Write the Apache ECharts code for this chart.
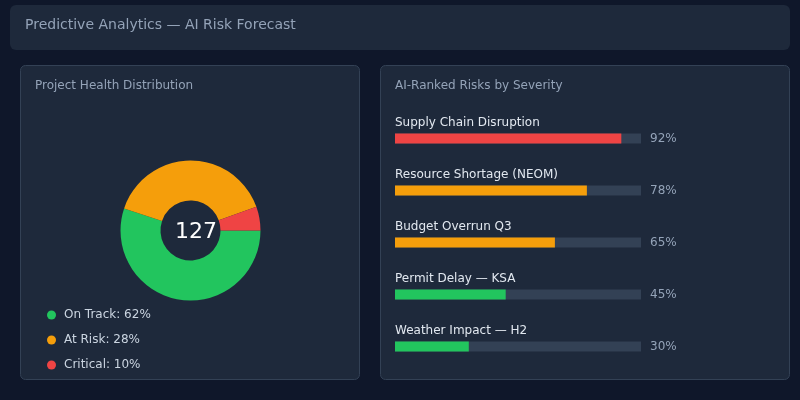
<!DOCTYPE html>
<html>
<head>
<meta charset="utf-8">
<script src="https://cdn.jsdelivr.net/npm/echarts@6/dist/echarts.min.js"></script>
<style>
  html, body { margin: 0; padding: 0; background: #0f172a; }
  #chart { width: 800px; height: 400px; }
</style>
</head>
<body>
<div id="chart"></div>
<script>
// project health
var healthNames = ['On Track', 'At Risk', 'Critical'];
var healthCounts = [70, 50, 7];
var healthPct = [62, 28, 10];
var healthColors = ['#22c55e', '#f59e0b', '#ef4444'];

// risks
var riskNames = ['Supply Chain Disruption', 'Resource Shortage (NEOM)', 'Budget Overrun Q3', 'Permit Delay — KSA', 'Weather Impact — H2'];
var riskValues = [92, 78, 65, 45, 30];
var riskColors = ['#ef4444', '#f59e0b', '#f59e0b', '#22c55e', '#22c55e'];

var font = 'DejaVu Sans, sans-serif';
var total = healthCounts.reduce(function (a, b) { return a + b; }, 0);

var myChart = echarts.init(document.getElementById('chart'));

var pieData = healthNames.map(function (n, i) {
    return { name: n, value: healthCounts[i], itemStyle: { color: healthColors[i] } };
});

var trackData = riskNames.map(function () { return 100; });
var fillData = riskValues.map(function (v, i) {
    return { value: v, itemStyle: { color: riskColors[i] } };
});

var option = {
    backgroundColor: '#0f172a',
    animation: false,
    textStyle: { fontFamily: font },
    graphic: [
        { type: 'rect', shape: { x: 10, y: 5, width: 780, height: 45, r: 6 }, style: { fill: '#1e293b' }, z: -10 },
        { type: 'text', x: 25, y: 25, style: { text: 'Predictive Analytics — AI Risk Forecast', fill: '#94a3b8', font: '14px ' + font, textVerticalAlign: 'middle' } },
        { type: 'rect', shape: { x: 20.5, y: 65.5, width: 339, height: 314, r: 5 }, style: { fill: '#1e293b', stroke: '#334155', lineWidth: 1 }, z: -10 },
        { type: 'text', x: 35, y: 86, style: { text: 'Project Health Distribution', fill: '#94a3b8', font: '12px ' + font, textVerticalAlign: 'middle' } },
        { type: 'rect', shape: { x: 380.5, y: 65.5, width: 409, height: 314, r: 5 }, style: { fill: '#1e293b', stroke: '#334155', lineWidth: 1 }, z: -10 },
        { type: 'text', x: 395, y: 86, style: { text: 'AI-Ranked Risks by Severity', fill: '#94a3b8', font: '12px ' + font, textVerticalAlign: 'middle' } },
        { type: 'text', x: 196, y: 232, z: 10, style: { text: String(total), fill: '#ffffff', font: '22px ' + font, textAlign: 'center', textVerticalAlign: 'middle' } }
    ],
    legend: {
        orient: 'vertical',
        left: 42,
        top: 302,
        icon: 'circle',
        itemWidth: 15,
        itemHeight: 9,
        itemGap: 9,
        data: healthNames,
        textStyle: { color: '#cbd5e1', fontSize: 12, fontFamily: font, lineHeight: 16 },
        formatter: function (name) {
            return name + ': ' + healthPct[healthNames.indexOf(name)] + '%';
        }
    },
    grid: { left: 395, width: 246, top: 112.5, height: 260 },
    xAxis: { type: 'value', min: 0, max: 100, show: false },
    yAxis: { type: 'category', data: riskNames, inverse: true, show: false },
    series: [
        {
            type: 'pie',
            center: [190.5, 230.5],
            radius: [30, 70],
            startAngle: 0,
            clockwise: true,
            label: { show: false },
            labelLine: { show: false },
            emphasis: { disabled: true },
            data: pieData
        },
        {
            type: 'bar',
            barWidth: 10,
            barGap: '-100%',
            silent: true,
            itemStyle: { color: '#334155' },
            data: trackData,
            label: {
                show: true,
                position: 'right',
                distance: 9,
                color: '#94a3b8',
                fontSize: 12,
                fontFamily: font,
                formatter: function (p) { return riskValues[p.dataIndex] + '%'; }
            },
            z: 1
        },
        {
            type: 'bar',
            barWidth: 10,
            barGap: '-100%',
            silent: true,
            data: fillData,
            label: {
                show: true,
                position: [0, -11],
                align: 'left',
                verticalAlign: 'middle',
                color: '#e2e8f0',
                fontSize: 12,
                fontFamily: font,
                formatter: function (p) { return riskNames[p.dataIndex]; }
            },
            z: 2
        }
    ]
};

myChart.setOption(option);
</script>
</body>
</html>
